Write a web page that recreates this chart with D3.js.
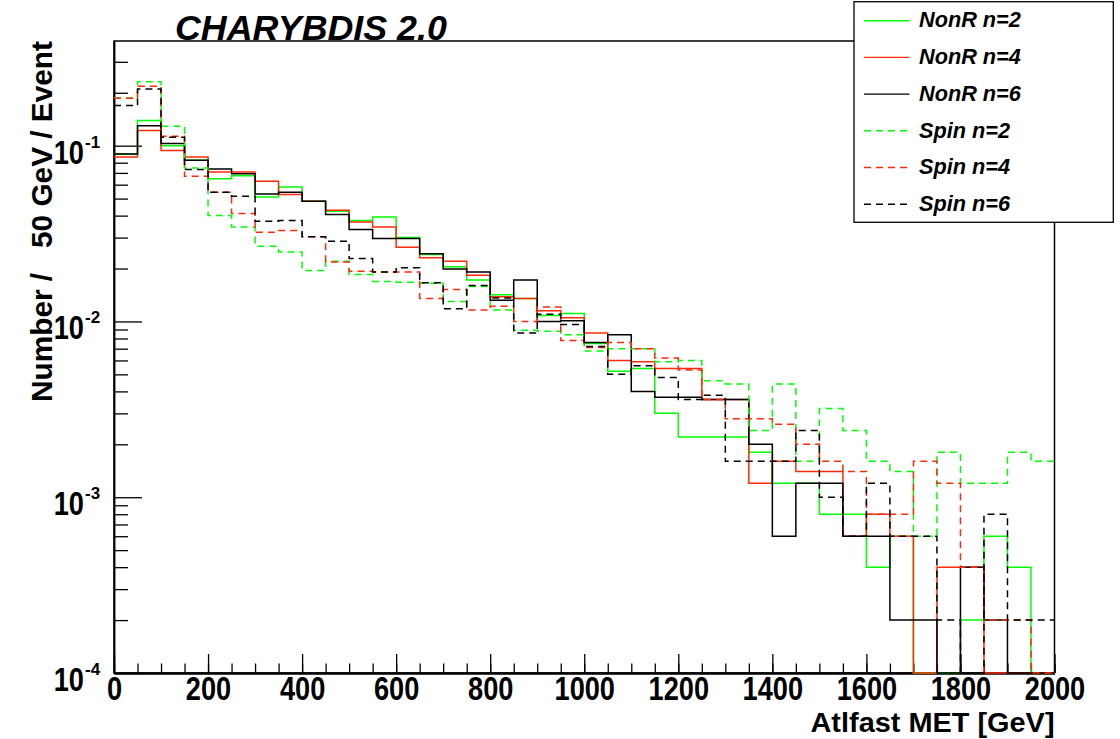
<!DOCTYPE html>
<html>
<head>
<meta charset="utf-8">
<script src="https://cdn.jsdelivr.net/npm/d3@7"></script>
<style>
  html, body { margin: 0; padding: 0; background: #fff; }
  svg { display: block; }
  text { font-family: "Liberation Sans", Arial, Helvetica, sans-serif; font-weight: bold; fill: #000; }
</style>
</head>
<body>
<svg id="chart" width="1120" height="739"></svg>
<script>
// Lower edges of the 50 GeV MET bins
const binLow = [0, 50, 100, 150, 200, 250, 300, 350, 400, 450,
                500, 550, 600, 650, 700, 750, 800, 850, 900, 950,
                1000, 1050, 1100, 1150, 1200, 1250, 1300, 1350, 1400, 1450,
                1500, 1550, 1600, 1650, 1700, 1750, 1800, 1850, 1900, 1950];
const binWidth = 50;

// Normalised entries per bin (fraction of events / 50 GeV)
const nonR2 = [0.0897, 0.139, 0.100, 0.0825, 0.0649, 0.0675, 0.0511, 0.0582, 0.0483, 0.0423,
               0.0375, 0.0393, 0.0300, 0.0240, 0.0205, 0.0172, 0.0142, 0.0135, 0.0108, 0.0111,
               0.0075, 0.0052, 0.0054, 0.0030, 0.0022, 0.0022, 0.0022, 0.0018, 0.0012, 0.0012,
               0.0008, 0.0008, 0.0004, 0.0006, 0, 0, 0.0002, 0.0006, 0.0004, 0];
const nonR4 = [0.0863, 0.122, 0.094, 0.0863, 0.0709, 0.0709, 0.0627, 0.0527, 0.0483, 0.0429,
               0.0368, 0.0345, 0.0264, 0.0230, 0.0220, 0.0183, 0.0138, 0.0135, 0.0115, 0.0105,
               0.0086, 0.0060, 0.0059, 0.0054, 0.0054, 0.0036, 0.0036, 0.0012, 0.0016, 0.0014,
               0.0014, 0.0006, 0.0008, 0.0006, 0, 0.0004, 0.0004, 0, 0, 0];
const nonR6 = [0.0897, 0.130, 0.103, 0.0825, 0.0737, 0.0693, 0.0531, 0.0543, 0.0483, 0.0406,
               0.0333, 0.0296, 0.0296, 0.0243, 0.0199, 0.0191, 0.0132, 0.0172, 0.0100, 0.0101,
               0.0076, 0.0084, 0.0040, 0.0037, 0.0037, 0.0036, 0.0036, 0.0020, 0.0006, 0.0012,
               0.0012, 0.0006, 0.0006, 0.0002, 0.0002, 0, 0.0004, 0.0002, 0, 0];
const spin2 = [0.187, 0.231, 0.129, 0.0747, 0.0400, 0.0345, 0.0268, 0.0248, 0.0195, 0.0220,
               0.0185, 0.0169, 0.0167, 0.0165, 0.0130, 0.0158, 0.0116, 0.0089, 0.0088, 0.0084,
               0.0068, 0.0070, 0.0070, 0.0059, 0.0060, 0.0046, 0.0044, 0.0024, 0.0044, 0.0016,
               0.0032, 0.0024, 0.0016, 0.0014, 0.0006, 0.0018, 0.0012, 0.0012, 0.0018, 0.0016];
const spin4 = [0.186, 0.218, 0.113, 0.0669, 0.0543, 0.0411, 0.0322, 0.0329, 0.0303, 0.0218,
               0.0193, 0.0191, 0.0191, 0.0135, 0.0152, 0.0116, 0.0122, 0.0100, 0.0121, 0.0078,
               0.0071, 0.0076, 0.0070, 0.0062, 0.0053, 0.0036, 0.0028, 0.0028, 0.0026, 0.0020,
               0.0016, 0.0014, 0.0008, 0.0008, 0.0016, 0.0012, 0.0004, 0.0002, 0.0002, 0];
const spin6 = [0.169, 0.210, 0.1115, 0.0731, 0.0543, 0.0515, 0.0372, 0.0375, 0.0303, 0.0286,
               0.0228, 0.0191, 0.0202, 0.0166, 0.0118, 0.0160, 0.0136, 0.0086, 0.0110, 0.0096,
               0.0072, 0.0050, 0.0056, 0.0048, 0.0036, 0.0038, 0.0016, 0.0016, 0.0016, 0.0024,
               0.0010, 0.0006, 0.0012, 0.0006, 0.0006, 0.0002, 0, 0.0008, 0.0002, 0.0002];

const seriesNames  = ["NonR n=2", "NonR n=4", "NonR n=6", "Spin n=2", "Spin n=4", "Spin n=6"];
const seriesValues = [nonR2, nonR4, nonR6, spin2, spin4, spin6];

// Axis ticks and labels
const xMajorTicks = [0, 200, 400, 600, 800, 1000, 1200, 1400, 1600, 1800, 2000];
const yDecades    = [1e-4, 1e-3, 1e-2, 1e-1];
const yDecadeExp  = ["-4", "-3", "-2", "-1"];
const xTitle = "Atlfast MET [GeV]";
const yTitle = "Number /   50 GeV / Event";
const title  = "CHARYBDIS 2.0";

// ----- styling -----
const green = "#00ff00", red = "#ff2a0a", black = "#000000";
const styles = [
  { color: green, dash: null },
  { color: red,   dash: null },
  { color: black, dash: null },
  { color: green, dash: "7,5" },
  { color: red,   dash: "7,5" },
  { color: black, dash: "7,5" }
];

const frame = { left: 114, right: 1054.5, top: 41, bottom: 673 };
const svg = d3.select("#chart");

const x = d3.scaleLinear().domain([0, 2000]).range([frame.left, frame.right]);
const y = d3.scaleLog().domain([1e-4, 0.394]).range([frame.bottom, frame.top]);

// ----- frame -----
svg.append("rect")
  .attr("x", frame.left).attr("y", frame.top)
  .attr("width", frame.right - frame.left).attr("height", frame.bottom - frame.top)
  .attr("fill", "none").attr("stroke", "#000").attr("stroke-width", 1.5);

// ----- x axis: minor ticks every 50 GeV, major every 200 GeV -----
const xMinor = d3.axisBottom(x).tickValues(binLow.concat([2000]))
  .tickSizeInner(-9.5).tickSizeOuter(0).tickFormat("");
const gxMinor = svg.append("g").attr("transform", `translate(0,${frame.bottom})`).call(xMinor);
const xMajor = d3.axisBottom(x).tickValues(xMajorTicks)
  .tickSizeInner(-19).tickSizeOuter(0).tickPadding(0).tickFormat(d3.format("d"));
const gxMajor = svg.append("g").attr("transform", `translate(0,${frame.bottom})`).call(xMajor);
[gxMinor, gxMajor].forEach(g => {
  g.select(".domain").attr("stroke", "#000").attr("stroke-width", 2);
  g.selectAll(".tick line").attr("stroke", "#000").attr("stroke-width", 1.3);
});
gxMajor.selectAll(".tick text")
  .attr("y", 27).attr("dy", null)
  .attr("font-size", 34)
  .attr("font-family", '"Liberation Sans", Arial, sans-serif')
  .attr("font-weight", "bold")
  .attr("transform", "scale(0.8,1)");

// ----- y axis: decade ticks with minor 2..9 -----
const yMinorVals = [];
yDecades.forEach(d => {
  for (let k = 2; k <= 9; k++) {
    const v = d * k;
    if (v <= y.domain()[1]) yMinorVals.push(v);
  }
});
const yMinor = d3.axisLeft(y).tickValues(yMinorVals).tickSizeInner(-14).tickSizeOuter(0).tickFormat("");
const gyMinor = svg.append("g").attr("transform", `translate(${frame.left},0)`).call(yMinor);
const yMajor = d3.axisLeft(y).tickValues(yDecades).tickSizeInner(-28).tickSizeOuter(0).tickFormat("");
const gyMajor = svg.append("g").attr("transform", `translate(${frame.left},0)`).call(yMajor);
[gyMinor, gyMajor].forEach(g => {
  g.select(".domain").attr("stroke", "#000").attr("stroke-width", 1.5);
  g.selectAll(".tick line").attr("stroke", "#000").attr("stroke-width", 1.3);
});

// decade labels 10^n
yDecades.forEach((d, i) => {
  const ty = y(d);
  svg.append("text")
    .attr("transform", `translate(84,${ty + 18}) scale(0.8,1)`)
    .attr("text-anchor", "end")
    .attr("font-size", 34)
    .text("10");
  svg.append("text")
    .attr("x", 85).attr("y", ty + 2)
    .attr("font-size", 17)
    .text(yDecadeExp[i]);
});

// ----- histograms -----
const clipId = "plotClip";
svg.append("clipPath").attr("id", clipId).append("rect")
  .attr("x", frame.left - 1).attr("y", frame.top - 1)
  .attr("width", frame.right - frame.left + 2).attr("height", frame.bottom - frame.top + 2);

const line = d3.line()
  .x(d => x(d[0]))
  .y(d => d[1] > 0 ? y(d[1]) : y.range()[0])
  .curve(d3.curveStepAfter);

const gHist = svg.append("g").attr("clip-path", `url(#${clipId})`);
seriesValues.forEach((vals, s) => {
  const pts = binLow.map((b, i) => [b, vals[i]]);
  pts.push([binLow[binLow.length - 1] + binWidth, vals[vals.length - 1]]);
  gHist.append("path")
    .attr("d", line(pts))
    .attr("fill", "none")
    .attr("stroke", styles[s].color)
    .attr("stroke-width", 1.5)
    .attr("stroke-dasharray", styles[s].dash);
});

// ----- axis titles -----
svg.append("text")
  .attr("x", frame.right).attr("y", 732)
  .attr("text-anchor", "end")
  .attr("font-size", 27.5)
  .attr("textLength", 244)
  .attr("lengthAdjust", "spacingAndGlyphs")
  .text(xTitle);

svg.append("text")
  .attr("transform", `translate(52,${frame.top}) rotate(-90)`)
  .attr("text-anchor", "end")
  .attr("font-size", 30)
  .attr("textLength", 361)
  .attr("lengthAdjust", "spacingAndGlyphs")
  .style("white-space", "pre")
  .text(yTitle);

// ----- title -----
svg.append("text")
  .attr("x", 175).attr("y", 40)
  .attr("font-size", 35.8)
  .attr("font-style", "italic")
  .text(title);

// ----- legend -----
const leg = svg.append("g");
leg.append("rect")
  .attr("x", 854).attr("y", 1.7).attr("width", 259.3).attr("height", 220.6)
  .attr("fill", "#fff").attr("stroke", "#000").attr("stroke-width", 1.3);
seriesNames.forEach((name, i) => {
  const cy = 20.7 + 36.7 * i;
  leg.append("line")
    .attr("x1", 864).attr("x2", 909.5).attr("y1", cy).attr("y2", cy)
    .attr("stroke", styles[i].color).attr("stroke-width", 1.4)
    .attr("stroke-dasharray", styles[i].dash);
  leg.append("text")
    .attr("x", 919).attr("y", cy + 6.7)
    .attr("font-size", 21.7)
    .attr("font-style", "italic")
    .text(name);
});
</script>
</body>
</html>
